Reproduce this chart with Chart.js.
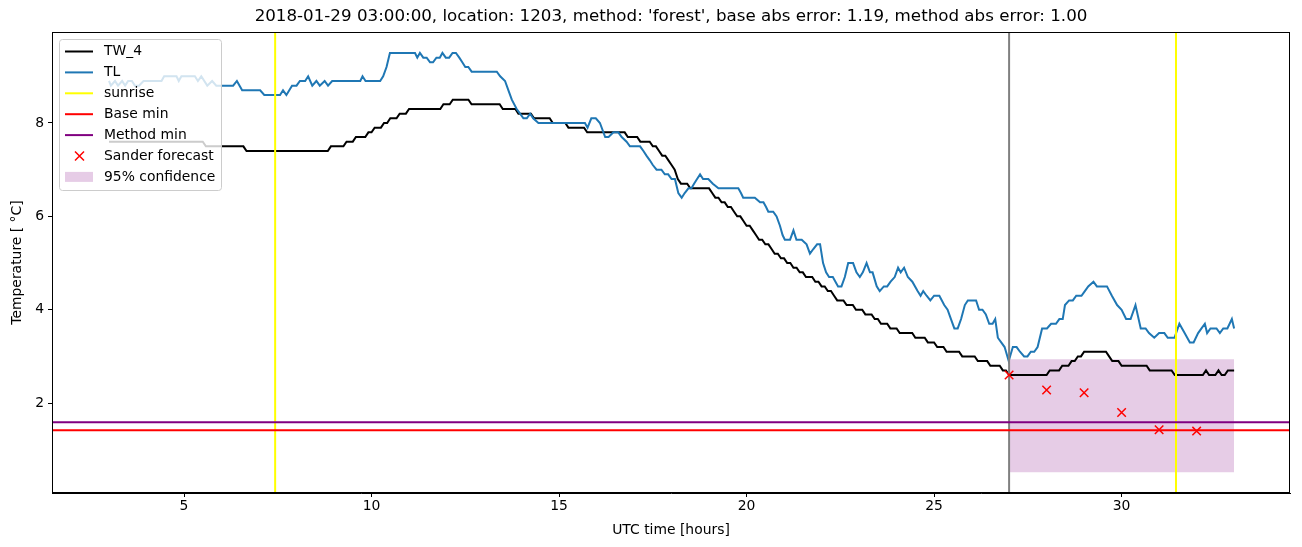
<!DOCTYPE html>
<html>
<head>
<meta charset="utf-8">
<script src="https://cdn.jsdelivr.net/npm/chart.js@4.4.1/dist/chart.umd.min.js"></script>
<style>
  body { margin: 0; background: #fff; }
  canvas { display: block; }
</style>
</head>
<body>
<canvas id="tempCanvas" width="1302" height="547"></canvas>
<script>
// TW_4, sampled every 5 minutes from 03:00 to 33:00 (hours)
const tw4Start = 3;
const tw4StepHours = 1 / 12;
const tw4Values = [
  7.6,7.6,7.6,7.6,7.6,7.6,7.6,7.6,7.6,7.6,7.6,7.6,7.6,7.6,7.6,7.6,7.6,7.6,7.6,7.6,
  7.6,7.6,7.6,7.6,7.6,7.6,7.6,7.6,7.6,7.6,7.6,
  7.5,7.5,7.5,7.5,7.5,7.5,7.5,7.5,7.5,7.5,7.5,7.5,7.5,
  7.4,7.4,7.4,7.4,7.4,7.4,7.4,7.4,7.4,7.4,7.4,7.4,7.4,7.4,7.4,7.4,7.4,7.4,7.4,7.4,
  7.4,7.4,7.4,7.4,7.4,7.4,7.4,
  7.5,7.5,7.5,7.5,7.5,
  7.6,7.6,7.6,
  7.7,7.7,7.7,7.7,
  7.8,7.8,
  7.9,7.9,7.9,
  8.0,8.0,
  8.1,8.1,8.1,
  8.2,8.2,8.2,
  8.3,8.3,8.3,8.3,8.3,8.3,8.3,8.3,8.3,8.3,8.3,
  8.4,8.4,8.4,
  8.5,8.5,8.5,8.5,8.5,8.5,
  8.4,8.4,8.4,8.4,8.4,8.4,8.4,8.4,8.4,8.4,
  8.3,8.3,8.3,8.3,8.3,
  8.2,8.2,8.2,8.2,8.2,
  8.1,8.1,8.1,8.1,8.1,8.1,
  8.0,8.0,8.0,8.0,8.0,
  7.9,7.9,7.9,7.9,7.9,7.9,
  7.8,7.8,7.8,7.8,7.8,7.8,7.8,7.8,7.8,7.8,7.8,7.8,7.8,
  7.7,7.7,7.7,7.7,
  7.6,7.6,7.6,7.6,
  7.5,7.5,
  7.4,7.3,7.3,7.2,7.1,7.0,6.8,6.7,6.7,6.7,
  6.6,6.6,6.6,6.6,6.6,6.6,6.6,
  6.5,6.4,6.4,6.3,6.3,6.2,6.2,6.1,6.0,6.0,
  5.9,5.8,5.8,5.7,5.6,5.5,5.5,5.4,5.4,5.3,
  5.2,5.2,5.1,5.1,5.0,5.0,4.9,4.9,4.8,4.8,
  4.7,4.7,4.7,4.6,4.6,4.5,4.5,4.4,4.4,4.3,
  4.2,4.2,4.2,4.1,4.1,4.1,4.0,4.0,4.0,3.9,
  3.9,3.9,3.8,3.8,3.7,3.7,3.7,3.6,3.6,3.6,
  3.5,3.5,3.5,3.5,3.5,3.4,3.4,3.4,3.4,3.3,
  3.3,3.3,3.2,3.2,3.2,3.1,3.1,3.1,3.1,3.1,
  3.0,3.0,3.0,3.0,3.0,2.9,2.9,2.9,2.9,2.8,
  2.8,2.8,2.8,2.7,2.7,2.6,
  2.6,2.6,2.6,2.6,2.6,2.6,2.6,2.6,2.6,2.6,2.6,2.6,
  2.7,2.7,2.7,2.7,
  2.8,2.8,2.8,
  2.9,2.9,
  3.0,3.0,
  3.1,3.1,3.1,3.1,3.1,3.1,3.1,3.1,
  3.0,
  2.9,2.9,2.9,
  2.8,2.8,2.8,2.8,2.8,2.8,2.8,2.8,2.8,
  2.7,2.7,2.7,2.7,2.7,2.7,2.7,2.7,
  2.6,2.6,2.6,2.6,2.6,2.6,2.6,2.6,2.6,2.6,
  2.7,2.6,2.6,2.6,2.7,2.6,2.6,2.7,2.7,2.7
];

const tlHours = [
  3.0,3.05,3.16,3.24,3.35,3.43,3.51,3.61,3.69,3.8,3.92,4.04,4.4,4.47,4.8,4.86,4.93,5.29,5.37,5.46,
  5.62,5.75,5.86,6.31,6.41,6.55,7.03,7.14,7.56,7.64,7.73,7.88,8.0,8.09,8.23,8.31,8.42,8.53,8.62,8.75,
  8.84,8.95,9.7,9.76,9.84,10.23,10.31,10.4,10.49,11.16,11.22,11.29,11.38,11.47,11.56,11.64,11.73,11.82,11.89,11.98,
  12.07,12.16,12.25,12.34,12.42,12.5,12.58,12.67,13.34,13.43,13.56,13.65,13.74,13.87,13.96,14.05,14.14,14.23,14.31,14.45,
  15.69,15.76,15.86,15.98,16.09,16.23,16.32,16.45,16.58,16.67,16.8,16.89,17.16,17.25,17.33,17.42,17.5,17.6,17.73,17.82,
  17.91,18.0,18.09,18.18,18.27,18.35,18.45,18.53,18.6,18.68,18.76,18.84,18.98,19.1,19.25,19.78,19.85,19.91,20.22,20.36,
  20.45,20.52,20.58,20.71,20.8,20.89,20.96,21.02,21.16,21.25,21.33,21.47,21.6,21.69,21.78,21.88,21.96,22.04,22.12,22.2,
  22.3,22.44,22.53,22.62,22.71,22.84,22.93,23.02,23.1,23.2,23.29,23.36,23.47,23.55,23.66,23.75,23.84,23.95,24.04,24.11,
  24.2,24.3,24.42,24.56,24.64,24.71,24.8,24.9,25.0,25.14,25.27,25.36,25.45,25.54,25.63,25.72,25.82,25.9,26.12,26.2,
  26.29,26.38,26.47,26.56,26.63,26.7,26.79,26.88,26.99,27.1,27.2,27.29,27.4,27.49,27.58,27.67,27.76,27.88,28.01,28.12,
  28.25,28.34,28.43,28.49,28.6,28.7,28.79,28.93,29.02,29.11,29.25,29.34,29.61,29.74,29.88,30.0,30.12,30.24,30.37,30.51,
  30.64,30.73,30.87,31.0,31.14,31.23,31.41,31.54,31.68,31.82,31.92,32.04,32.13,32.22,32.28,32.37,32.53,32.62,32.71,32.82,
  32.94,33.0
];
const tlValues = [
  8.9,8.8,8.9,8.8,8.9,8.8,8.9,8.9,8.8,8.8,8.9,8.9,8.9,9.0,9.0,8.9,9.0,9.0,8.9,9.0,
  8.8,8.9,8.8,8.8,8.9,8.7,8.7,8.6,8.6,8.7,8.6,8.8,8.8,8.9,8.9,9.0,8.8,8.9,8.8,8.9,
  8.8,8.9,8.9,9.0,8.9,8.9,9.0,9.2,9.5,9.5,9.4,9.5,9.4,9.4,9.3,9.3,9.4,9.4,9.5,9.4,
  9.4,9.5,9.5,9.4,9.3,9.2,9.2,9.1,9.1,9.0,8.9,8.7,8.5,8.3,8.2,8.1,8.1,8.2,8.1,8.0,
  8.0,7.9,8.1,8.1,8.0,7.7,7.7,7.8,7.8,7.7,7.6,7.5,7.5,7.4,7.3,7.2,7.1,7.0,7.0,6.9,
  6.9,6.8,6.8,6.5,6.4,6.5,6.6,6.6,6.7,6.8,6.9,6.8,6.8,6.7,6.6,6.6,6.5,6.4,6.4,6.3,
  6.3,6.2,6.1,6.1,6.0,5.8,5.6,5.5,5.5,5.7,5.5,5.5,5.4,5.2,5.3,5.4,5.4,5.0,4.8,4.7,
  4.7,4.5,4.5,4.7,5.0,5.0,4.8,4.7,4.8,5.0,4.8,4.8,4.5,4.4,4.5,4.5,4.6,4.7,4.9,4.8,
  4.9,4.7,4.6,4.4,4.3,4.4,4.3,4.2,4.3,4.3,4.1,4.0,3.8,3.6,3.6,3.8,4.1,4.2,4.2,4.0,
  4.0,3.9,3.7,3.7,3.8,3.4,3.3,3.2,2.9,3.2,3.2,3.1,3.0,3.0,3.1,3.1,3.2,3.6,3.6,3.7,
  3.7,3.8,3.8,4.1,4.2,4.2,4.3,4.3,4.4,4.5,4.6,4.5,4.5,4.3,4.1,4.0,3.8,3.8,4.1,3.6,
  3.6,3.5,3.4,3.5,3.5,3.4,3.4,3.7,3.5,3.3,3.3,3.5,3.6,3.7,3.5,3.6,3.6,3.5,3.6,3.6,
  3.8,3.6
];

const sunriseHours = [7.43, 31.45];
const forecastStartHour = 27.0;
const baseMin = 1.42;
const methodMin = 1.59;

const sanderHours = [27, 28, 29, 30, 31, 32];
const sanderValues = [2.6, 2.28, 2.22, 1.8, 1.43, 1.4];

const confHours = [27.0, 33.0];
const confLow = 0.52;
const confHigh = 2.94;

const xTicks = [5, 10, 15, 20, 25, 30];
const yTicks = [2, 4, 6, 8];
const xRange = [1.48, 34.49];
const yRange = [0.074, 9.949];

const titleText = "2018-01-29 03:00:00, location: 1203, method: 'forest', base abs error: 1.19, method abs error: 1.00";
const FONT = "'DejaVu Sans', sans-serif";

const tw4Points = tw4Values.map((v, i) => ({ x: tw4Start + i * tw4StepHours, y: v }));
const tlPoints = tlHours.map((h, i) => ({ x: h, y: tlValues[i] }));
const sanderPoints = sanderHours.map((h, i) => ({ x: h, y: sanderValues[i] }));

function vline(x) { return [{ x: x, y: yRange[0] }, { x: x, y: yRange[1] }]; }
function hline(y) { return [{ x: xRange[0] - 5, y: y }, { x: xRange[1] + 5, y: y }]; }

const lineBase = { pointRadius: 0, borderWidth: 2, tension: 0, fill: false };

const legendItems = [
  { label: 'TW_4', kind: 'line', color: '#000000' },
  { label: 'TL', kind: 'line', color: '#1f77b4' },
  { label: 'sunrise', kind: 'line', color: '#ffff00' },
  { label: 'Base min', kind: 'line', color: '#ff0000' },
  { label: 'Method min', kind: 'line', color: '#800080' },
  { label: 'Sander forecast', kind: 'cross', color: '#ff0000' },
  { label: '95% confidence', kind: 'patch', color: 'rgba(128,0,128,0.2)' }
];

const framePlugin = {
  id: 'frame',
  afterDraw(chart) {
    const ctx = chart.ctx;
    const a = chart.chartArea;
    ctx.save();
    // box around the axes
    ctx.strokeStyle = '#000';
    ctx.lineWidth = 1;
    ctx.strokeRect(a.left + 0.5, a.top + 0.5, a.right - a.left - 1, a.bottom - a.top - 1);

    // title
    ctx.fillStyle = '#000';
    ctx.font = '16.7px ' + FONT;
    ctx.textAlign = 'center';
    ctx.textBaseline = 'middle';
    ctx.fillText(titleText, (a.left + a.right) / 2, 17);

    // legend
    const bx = 59, by = 39, bw = 162, bh = 151;
    ctx.beginPath();
    ctx.roundRect(bx + 0.5, by + 0.5, bw, bh, 3);
    ctx.fillStyle = 'rgba(255,255,255,0.8)';
    ctx.fill();
    ctx.strokeStyle = '#cccccc';
    ctx.lineWidth = 1;
    ctx.stroke();

    ctx.font = '13.9px ' + FONT;
    ctx.textAlign = 'left';
    legendItems.forEach((it, i) => {
      const y = 51.5 + i * 20.9;
      if (it.kind === 'line') {
        ctx.strokeStyle = it.color;
        ctx.lineWidth = 2;
        ctx.beginPath();
        ctx.moveTo(65, y);
        ctx.lineTo(93, y);
        ctx.stroke();
      } else if (it.kind === 'cross') {
        ctx.strokeStyle = it.color;
        ctx.lineWidth = 1.5;
        ctx.beginPath();
        ctx.moveTo(75, y - 4.5); ctx.lineTo(84, y + 4.5);
        ctx.moveTo(84, y - 4.5); ctx.lineTo(75, y + 4.5);
        ctx.stroke();
      } else {
        ctx.fillStyle = it.color;
        ctx.fillRect(65, y - 5, 28, 10);
      }
      ctx.fillStyle = '#000';
      ctx.fillText(it.label, 104, y);
    });
    ctx.restore();
  }
};

new Chart(
  document.getElementById('tempCanvas'),
  {
    type: 'line',
    plugins: [framePlugin],
    data: {
      datasets: [
        { label: 'Sander forecast', data: sanderPoints, showLine: false, pointStyle: 'crossRot',
          pointRadius: 6, pointBorderWidth: 1.5, borderColor: '#ff0000', backgroundColor: '#ff0000' },
        { ...lineBase, label: 'Method min', data: hline(methodMin), borderColor: '#800080' },
        { ...lineBase, label: 'Base min', data: hline(baseMin), borderColor: '#ff0000' },
        { ...lineBase, label: 'forecast start', data: vline(forecastStartHour), borderColor: '#808080' },
        { ...lineBase, label: 'sunrise', data: vline(sunriseHours[0]), borderColor: '#ffff00' },
        { ...lineBase, label: 'sunrise 2', data: vline(sunriseHours[1]), borderColor: '#ffff00' },
        { ...lineBase, label: 'TL', data: tlPoints, borderColor: '#1f77b4' },
        { ...lineBase, label: 'TW_4', data: tw4Points, borderColor: '#000000' },
        { label: '95% confidence', data: confHours.map(h => ({ x: h, y: confHigh })),
          pointRadius: 0, borderWidth: 0, borderColor: 'rgba(0,0,0,0)',
          backgroundColor: 'rgba(128,0,128,0.2)', fill: { value: confLow } }
      ]
    },
    options: {
      responsive: false,
      animation: false,
      devicePixelRatio: 1,
      layout: { padding: { top: 32, right: 12, left: 0, bottom: 0 } },
      plugins: {
        legend: { display: false },
        title: { display: false },
        tooltip: { enabled: false }
      },
      scales: {
        x: {
          type: 'linear',
          min: xRange[0],
          max: xRange[1],
          afterBuildTicks: s => { s.ticks = xTicks.map(v => ({ value: v })); },
          afterFit: s => { s.height = 54; },
          grid: { drawOnChartArea: false, drawTicks: true, tickLength: 4, tickColor: '#000', tickWidth: 1 },
          border: { display: true, color: '#000', width: 1 },
          ticks: { color: '#000', font: { family: FONT, size: 13.9 }, padding: 1, maxRotation: 0, autoSkip: false },
          title: { display: true, text: 'UTC time [hours]', color: '#000',
                   font: { family: FONT, size: 13.9 }, padding: { top: 0, bottom: 8 } }
        },
        y: {
          type: 'linear',
          min: yRange[0],
          max: yRange[1],
          afterBuildTicks: s => { s.ticks = yTicks.map(v => ({ value: v })); },
          afterFit: s => { s.width = 52; },
          grid: { drawOnChartArea: false, drawTicks: true, tickLength: 4, tickColor: '#000', tickWidth: 1 },
          border: { display: true, color: '#000', width: 1 },
          ticks: { color: '#000', font: { family: FONT, size: 13.9 }, padding: 4 },
          title: { display: true, text: 'Temperature [ °C]', color: '#000',
                   font: { family: FONT, size: 13.9 }, padding: { top: 9, bottom: 0 } }
        }
      }
    }
  }
);
</script>
</body>
</html>
